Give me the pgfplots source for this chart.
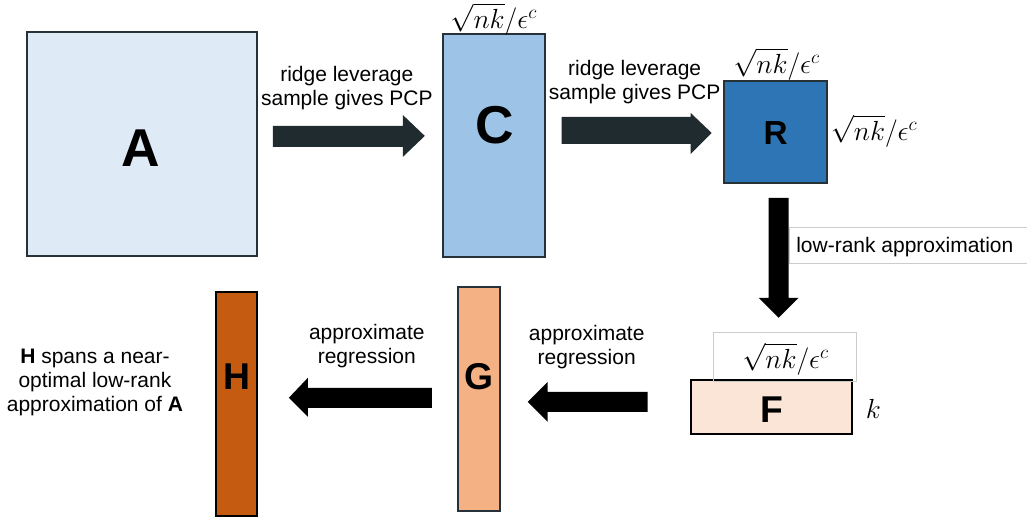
\documentclass[border=0pt]{standalone}
\usepackage{pgfplots}
\pgfplotsset{compat=1.18}
\usepackage{fontspec}
\setmainfont{Liberation Sans}

\definecolor{boxA}{RGB}{222,235,247}
\definecolor{boxC}{RGB}{157,195,230}
\definecolor{boxR}{RGB}{46,117,182}
\definecolor{boxF}{RGB}{251,229,214}
\definecolor{boxG}{RGB}{244,177,131}
\definecolor{boxH}{RGB}{197,90,17}
\definecolor{edge}{RGB}{38,50,56}
\definecolor{darrow}{RGB}{31,43,46}

\begin{document}
\begin{tikzpicture}
\begin{axis}[
    scale only axis,
    width=770.25pt, height=390.75pt,
    xmin=0, xmax=1027, ymin=0, ymax=521,
    y dir=reverse,
    hide axis,
    clip=false,
    no markers,
]
% frame for the bounding box
\addplot[draw=none, forget plot] coordinates {(0,0) (1027,521)};

% matrices
\addplot[fill=boxA, draw=edge, line width=1.5pt] coordinates {(27,32) (257,32) (257,256) (27,256)} -- cycle;
\addplot[fill=boxC, draw=edge, line width=1.5pt] coordinates {(443,34) (545,34) (545,257) (443,257)} -- cycle;
\addplot[fill=boxR, draw=edge, line width=1.5pt] coordinates {(724,81) (827,81) (827,183) (724,183)} -- cycle;
\addplot[fill=boxF, draw=black, line width=1.5pt] coordinates {(691,380) (852,380) (852,434) (691,434)} -- cycle;
\addplot[fill=boxG, draw=edge, line width=1.5pt] coordinates {(458,287) (500,287) (500,511) (458,511)} -- cycle;
\addplot[fill=boxH, draw=black, line width=1.5pt] coordinates {(216,292) (257,292) (257,516) (216,516)} -- cycle;

% text boxes (thin grey outlines)
\addplot[draw=black!20, line width=0.75pt] coordinates {(714,333) (857,333) (857,382) (714,382)} -- cycle;
\addplot[draw=black!20, line width=0.75pt] coordinates {(1027,228) (790,228) (790,264) (1027,264)};

% arrows
\addplot[fill=darrow, draw=none] coordinates {(273,126) (403,126) (403,115) (425,136) (403,157) (403,147) (273,147)} -- cycle;
\addplot[fill=darrow, draw=none] coordinates {(562,117) (691,117) (691,113) (712,133) (691,154) (691,144) (562,144)} -- cycle;
\addplot[fill=black, draw=none] coordinates {(769,198) (789,198) (789,298) (799,298) (779,318) (759,298) (769,298)} -- cycle;
\addplot[fill=black, draw=none] coordinates {(648,392) (548,392) (548,382) (528,402) (548,422) (548,412) (648,412)} -- cycle;
\addplot[fill=black, draw=none] coordinates {(432,388) (308,388) (308,378) (289,398) (308,417) (308,408) (432,408)} -- cycle;

% matrix names
\node[font=\fontsize{40}{40}\selectfont\bfseries] at (141,148) {A};
\node[font=\fontsize{40}{40}\selectfont\bfseries] at (495,125) {C};
\node[font=\fontsize{25}{25}\selectfont\bfseries] at (776,133) {R};
\node[font=\fontsize{28}{28}\selectfont\bfseries] at (772,410) {F};
\node[font=\fontsize{28}{28}\selectfont\bfseries] at (479,377) {G};
\node[font=\fontsize{28}{28}\selectfont\bfseries] at (237,377) {H};

% dimensions
\node[font=\fontsize{21}{21}\selectfont, inner sep=0pt, anchor=north] at (494,3) {$\sqrt{nk}/\epsilon^c$};
\node[font=\fontsize{21}{21}\selectfont, inner sep=0pt] at (777,64) {$\sqrt{nk}/\epsilon^c$};
\node[font=\fontsize{21}{21}\selectfont, inner sep=0pt, anchor=west] at (831,131) {$\sqrt{nk}/\epsilon^c$};
\node[font=\fontsize{21}{21}\selectfont, inner sep=0pt] at (786,359) {$\sqrt{nk}/\epsilon^c$};
\node[font=\fontsize{21}{21}\selectfont, inner sep=0pt, anchor=west] at (866,409) {$k$};

% step labels
\node[font=\fontsize{15.75}{18}\selectfont, align=center] at (347,88) {ridge leverage\\sample gives PCP};
\node[font=\fontsize{15.75}{18}\selectfont, align=center] at (635,82) {ridge leverage\\sample gives PCP};
\node[font=\fontsize{15.75}{18}\selectfont, anchor=west] at (792,247) {low-rank approximation};
\node[font=\fontsize{15.75}{18}\selectfont, align=center] at (587,347) {approximate\\regression};
\node[font=\fontsize{15.75}{18}\selectfont, align=center] at (367,346) {approximate\\regression};
\node[font=\fontsize{15.75}{18}\selectfont, align=center] at (95,383) {\textbf{H} spans a near-\\optimal low-rank\\approximation of \textbf{A}};
\end{axis}
\end{tikzpicture}
\end{document}
